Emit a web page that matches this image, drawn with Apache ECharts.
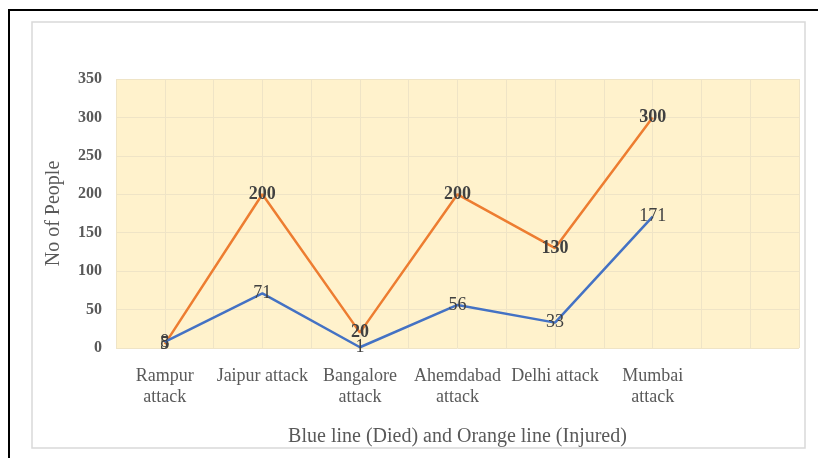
<!DOCTYPE html>
<html><head><meta charset="utf-8">
<script src="https://cdn.jsdelivr.net/npm/echarts@6/dist/echarts.min.js"></script>
<style>html,body{margin:0;padding:0;background:#fff;}#c{width:818px;height:458px;}</style>
</head><body><div id="c"></div>
<script>
const categories = ['Rampur\nattack', 'Jaipur attack', 'Bangalore\nattack', 'Ahemdabad\nattack', 'Delhi attack', 'Mumbai\nattack', ''];
const died = [8, 71, 1, 56, 33, 171, null];
const injured = [5, 200, 20, 200, 130, 300, null];
const yTicks = [0, 50, 100, 150, 200, 250, 300, 350];
const gridSlots = Array.from({length: categories.length * 2}, (_, i) => String(i));

const serif = '"Liberation Serif", "DejaVu Serif", serif';
const chart = echarts.init(document.getElementById('c'));
chart.setOption({
  animation: false,
  backgroundColor: '#ffffff',
  grid: { left: 116, right: 19, top: 79, bottom: 110, show: true, backgroundColor: '#FFF2CC', borderWidth: 0 },
  xAxis: [{
    type: 'category', data: categories, boundaryGap: true,
    axisLine: { show: false }, axisTick: { show: false }, splitLine: { show: false },
    axisLabel: { fontFamily: serif, fontSize: 18, color: '#595959', lineHeight: 21, margin: 18, interval: 0 },
    name: 'Blue line (Died) and Orange line (Injured)', nameLocation: 'middle', nameGap: 79,
    nameTextStyle: { fontFamily: serif, fontSize: 20, color: '#595959' }
  }, {
    type: 'category', data: gridSlots, boundaryGap: true, position: 'bottom',
    axisLine: { show: false }, axisTick: { show: false }, axisLabel: { show: false },
    splitLine: { show: true, interval: 0, lineStyle: { color: '#EFE4C6', width: 1 } }
  }],
  yAxis: {
    type: 'value', min: yTicks[0], max: yTicks[yTicks.length - 1], interval: 50,
    axisLine: { show: false }, axisTick: { show: false },
    splitLine: { show: true, lineStyle: { color: '#EFE4C6', width: 1 } },
    axisLabel: { fontFamily: serif, fontSize: 16, fontWeight: 'bold', color: '#595959', margin: 14 },
    name: 'No of People', nameLocation: 'middle', nameGap: 52,
    nameTextStyle: { fontFamily: serif, fontSize: 20, color: '#595959' }
  },
  series: [{
    name: 'Injured', type: 'line', data: injured, xAxisIndex: 0,
    symbol: 'circle', symbolSize: 2, itemStyle: { color: 'rgba(0,0,0,0)', borderWidth: 0 },
    lineStyle: { color: '#ED7D31', width: 2.5 },
    label: { show: true, position: 'inside', fontFamily: serif, fontSize: 18, fontWeight: 'bold', color: '#404040' },
    z: 2
  }, {
    name: 'Died', type: 'line', data: died, xAxisIndex: 0,
    symbol: 'circle', symbolSize: 2, itemStyle: { color: 'rgba(0,0,0,0)', borderWidth: 0 },
    lineStyle: { color: '#4472C4', width: 2.5 },
    label: { show: true, position: 'inside', fontFamily: serif, fontSize: 18, color: '#404040' },
    z: 3
  }],
  graphic: [
    { type: 'rect', shape: { x: 32, y: 22, width: 773, height: 426 }, style: { fill: null, stroke: '#D9D9D9', lineWidth: 1.5 }, z: -1 },
    { type: 'line', shape: { x1: 8, y1: 10, x2: 818, y2: 10 }, style: { stroke: '#000', lineWidth: 2 } },
    { type: 'line', shape: { x1: 9, y1: 10, x2: 9, y2: 458 }, style: { stroke: '#000', lineWidth: 2 } }
  ]
});
</script></body></html>
